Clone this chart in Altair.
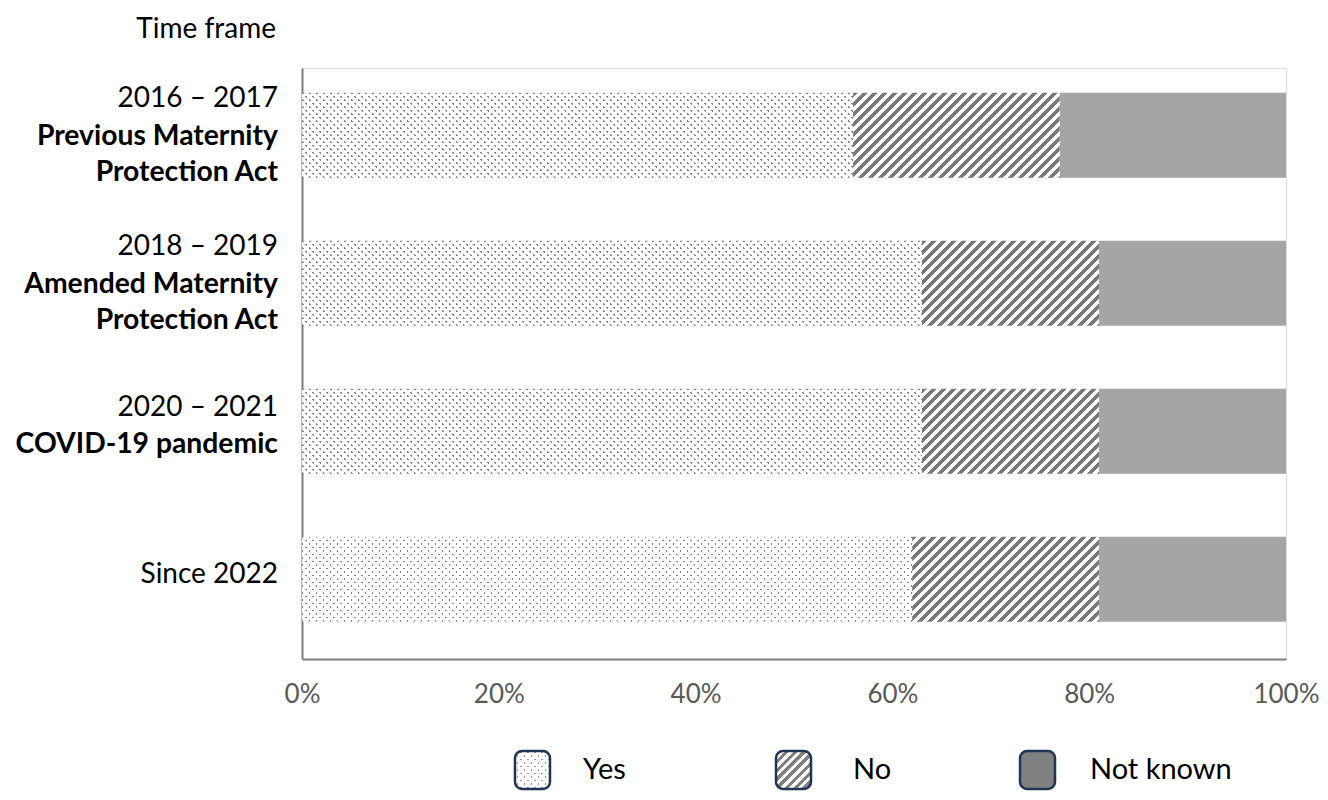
import altair as alt
import pandas as pd

# ---------------- data ----------------
time_frames = ["2016 – 2017", "2018 – 2019", "2020 – 2021", "Since 2022"]
label_first_line = ["2016 – 2017", "2018 – 2019", "2020 – 2021", "Since 2022"]
label_bold_lines = [
    ["Previous Maternity", "Protection Act"],
    ["Amended Maternity ", "Protection Act"],
    ["COVID-19 pandemic"],
    [],
]
categories = ["Yes", "No", "Not known"]
yes_share = [56, 63, 63, 62]
no_share = [21, 18, 18, 19]
not_known_share = [23, 19, 19, 19]
x_ticks = [0, 20, 40, 60, 80, 100]

# ---------------- layout / style ----------------
PLOT_W, PLOT_H = 984, 591
PAD_IN, PAD_OUT, ALIGN = 0.426, 0.21, 0.4
STEP = PLOT_H / (len(time_frames) - PAD_IN + 2 * PAD_OUT)
BAR_H = STEP * (1 - PAD_IN)
FONT = "Lato"
AXIS_GREY = "#7f7f7f"
NAVY = "#1f3556"

rows = []
for tf, y, n, k in zip(time_frames, yes_share, no_share, not_known_share):
    start = 0
    for cat, v in zip(categories, [y, n, k]):
        rows.append({"tf": tf, "cat": cat, "start": start, "end": start + v, "value": v})
        start += v
df = pd.DataFrame(rows)


def stripes(W, H, period, width, on, off, direction):
    """Linear gradient (objectBoundingBox) giving 45° stripes."""
    L = W + H
    a = L / (W * W + H * H)
    if direction == "/":
        x1, y1, x2, y2 = 0, 0, a * W, a * H
    else:
        x1, y1, x2, y2 = 0, 1, a * W, 1 - a * H
    stops = []
    k = 0
    while k * period < L:
        s = round(k * period / L, 5)
        e = round(min((k * period + width) / L, 1), 5)
        stops += [(s, off), (s, on), (e, on), (e, off)]
        k += 1
    stops.append((1, off))
    return alt.LinearGradient(
        gradient="linear",
        x1=x1, y1=y1, x2=x2, y2=y2,
        stops=[alt.GradientStop(offset=o, color=c) for o, c in stops],
    )


DOT_P, DOT_W, DOT_C = 7, 2.2, "#858585"
HATCH_P, HATCH_W, HATCH_C = 10, 4.6, "#787878"
CLEAR = "rgba(255,255,255,0)"

x_enc = alt.X(
    "start:Q",
    scale=alt.Scale(domain=[0, 100], nice=False),
    axis=alt.Axis(
        values=x_ticks, labelExpr="datum.value + '%'", ticks=False, grid=False,
        domainColor=AXIS_GREY, domainWidth=2, labelFontSize=26, labelColor="#595959",
        labelFont=FONT, labelPadding=22, labelFlush=False, labelOverlap=False, title=None,
    ),
)
y_enc = alt.Y(
    "tf:N", sort=time_frames,
    scale=alt.Scale(paddingInner=PAD_IN, paddingOuter=PAD_OUT, align=ALIGN),
    axis=alt.Axis(labels=False, ticks=False, grid=False, domainColor=AXIS_GREY,
                  domainWidth=2, title=None),
)

base = alt.Chart(df)
layers = []

# Not known: solid grey
layers.append(
    base.transform_filter(alt.datum.cat == "Not known")
    .mark_bar(fill="#a5a5a5", strokeWidth=0)
    .encode(x=x_enc, x2="end:Q", y=y_enc)
)

for i, tf in enumerate(time_frames):
    # No: diagonal hatch
    w_no = no_share[i] / 100 * PLOT_W
    layers.append(
        base.transform_filter((alt.datum.cat == "No") & (alt.datum.tf == tf))
        .mark_bar(fill=stripes(w_no, BAR_H, HATCH_P, HATCH_W, HATCH_C, "#ffffff", "/"),
                  strokeWidth=0)
        .encode(x=x_enc, x2="end:Q", y=y_enc)
    )
    # Yes: dotted texture (thin stripes masked by crossing stripes)
    w_yes = yes_share[i] / 100 * PLOT_W
    layers.append(
        base.transform_filter((alt.datum.cat == "Yes") & (alt.datum.tf == tf))
        .mark_bar(fill=stripes(w_yes, BAR_H, DOT_P, DOT_W, DOT_C, "#ffffff", "/"), strokeWidth=0)
        .encode(x=x_enc, x2="end:Q", y=y_enc)
    )
    layers.append(
        base.transform_filter((alt.datum.cat == "Yes") & (alt.datum.tf == tf))
        .mark_bar(fill=stripes(w_yes, BAR_H, DOT_P, DOT_W, CLEAR, "#ffffff", "\\"),
                  strokeWidth=0)
        .encode(x=x_enc, x2="end:Q", y=y_enc)
    )

# ---------------- category labels (left) ----------------
lab_rows = []
for tf, first, bold in zip(time_frames, label_first_line, label_bold_lines):
    n = 1 + len(bold)
    offs = {3: [-36, 2, 38], 2: [-23, 14], 1: [-4]}[n]
    lab_rows.append({"tf": tf, "text": first, "off": offs[0], "w": "normal"})
    for j, b in enumerate(bold):
        lab_rows.append({"tf": tf, "text": b, "off": offs[j + 1], "w": "bold"})
lab_df = pd.DataFrame(lab_rows)

for (off, w), _ in lab_df.groupby(["off", "w"]):
    layers.append(
        alt.Chart(lab_df)
        .transform_filter((alt.datum.off == int(off)) & (alt.datum.w == w))
        .mark_text(align="right", baseline="middle", dy=int(off), font=FONT,
                   fontSize=28.3 if w == "bold" else 28, fontWeight=w, color="#000000")
        .encode(x=alt.value(-24), y=y_enc, text="text:N")
    )

# Title at top-left
layers.append(
    alt.Chart(alt.Data(values=[{"t": "Time frame"}]))
    .mark_text(align="right", baseline="middle", font=FONT, fontSize=28, color="#000000")
    .encode(x=alt.value(-26), y=alt.value(-38), text="t:N")
)

# ---------------- legend (bottom) ----------------
LEG_Y, LEG_Y2 = 683, 721
leg_items = [("Yes", 213, 281), ("No", 474, 551), ("Not known", 718, 788)]
BW, BH = 35, LEG_Y2 - LEG_Y
for name, bx, tx in leg_items:
    d = alt.Data(values=[{"label": name}])
    enc = dict(x=alt.value(bx), x2=alt.value(bx + BW), y=alt.value(LEG_Y), y2=alt.value(LEG_Y2))
    if name == "Yes":
        layers.append(alt.Chart(d).mark_rect(
            fill=stripes(BW, BH, DOT_P, 1.8, "#999999", "#ffffff", "/"), cornerRadius=7).encode(**enc))
        layers.append(alt.Chart(d).mark_rect(
            fill=stripes(BW, BH, DOT_P, 1.8, CLEAR, "#ffffff", "\\"),
            cornerRadius=7, stroke=NAVY, strokeWidth=2.5).encode(**enc))
    elif name == "No":
        layers.append(alt.Chart(d).mark_rect(
            fill=stripes(BW, BH, 9, 4.2, "#808080", "#ffffff", "/"),
            cornerRadius=7, stroke=NAVY, strokeWidth=2.5).encode(**enc))
    else:
        layers.append(alt.Chart(d).mark_rect(
            fill="#808080", cornerRadius=7, stroke=NAVY, strokeWidth=2.5).encode(**enc))
    layers.append(
        alt.Chart(d).mark_text(align="left", baseline="middle", font=FONT, fontSize=29,
                               color="#000000")
        .encode(x=alt.value(tx), y=alt.value((LEG_Y + LEG_Y2) / 2), text="label:N")
    )

chart = (
    alt.layer(*layers)
    .properties(
        width=PLOT_W, height=PLOT_H,
        autosize=alt.AutoSizeParams(type="none"),
        padding={"left": 294, "top": 60, "right": 34, "bottom": 133},
    )
    .configure_view(stroke=None)
    .configure(background="#ffffff")
)

chart.save("out.html", embed_options={"renderer": "svg", "actions": False})
